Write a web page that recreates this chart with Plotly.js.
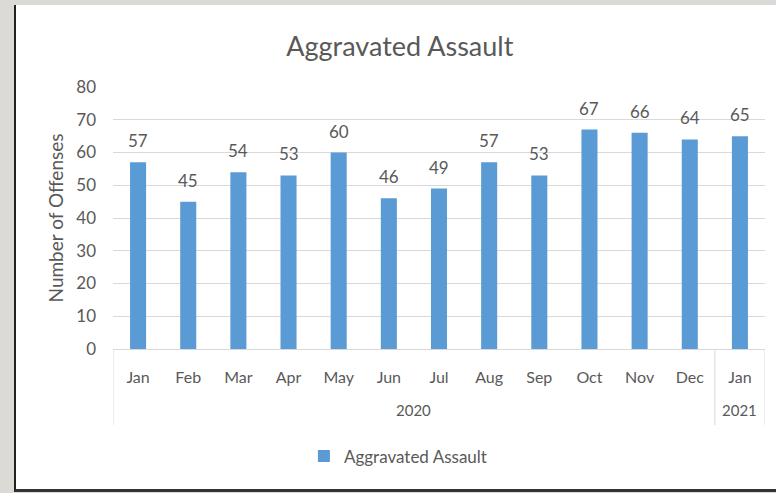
<!DOCTYPE html>
<html><head><meta charset="utf-8">
<script src="https://cdn.plot.ly/plotly-3.0.1.min.js"></script>
<style>
html,body{margin:0;padding:0;background:#dcdad5;width:776px;height:493px;overflow:hidden;}
#frame{position:absolute;left:14px;top:5px;width:762px;height:487px;background:#fff;border-left:2px solid #222;border-bottom:3px solid #333;box-sizing:border-box;}
#chart{position:absolute;left:0;top:0;width:760px;height:484px;}
</style></head>
<body><div id="frame"><div id="chart"></div></div>
<script>
const years = ["2020","2020","2020","2020","2020","2020","2020","2020","2020","2020","2020","2020","2021"];
const months = ["Jan","Feb","Mar","Apr","May","Jun","Jul","Aug","Sep","Oct","Nov","Dec","Jan"];
const offenses = [57,45,54,53,60,46,49,57,53,67,66,64,65];
const seriesName = "Aggravated Assault";
const yTicks = [0,10,20,30,40,50,60,70,80];

const font = "Lato, 'Open Sans', sans-serif";
const grey = "#595959";
const lineGrey = "#d9d9d9";
const idx = months.map((m, i) => i);

// year groups from the years array
const groups = [];
years.forEach((y, i) => {
  const g = groups[groups.length - 1];
  if (g && g.year === y) g.end = i; else groups.push({year: y, start: i, end: i});
});
const boundaries = [-0.5].concat(groups.map(g => g.end + 0.5));

const trace = {
  type: "bar",
  x: idx,
  y: offenses,
  name: seriesName,
  marker: {color: "#5b9bd5"},
  hoverinfo: "y"
};
const valueLabels = offenses.map((v, i) => ({xref: "x", yref: "y", x: idx[i], y: v,
  text: String(v), showarrow: false, xanchor: "center", yanchor: "bottom", yshift: 9,
  font: {family: font, size: 17, color: grey}}));
const yearLabels = groups.map(g => ({xref: "x", yref: "paper", x: (g.start + g.end) / 2, y: -0.233,
  text: g.year, showarrow: false, xanchor: "center", yanchor: "middle",
  font: {family: font, size: 15, color: grey}}));

const layout = {
  width: 760, height: 484,
  margin: {l: 97, r: 11, t: 82, b: 140},
  paper_bgcolor: "#fff", plot_bgcolor: "#fff",
  bargap: 0.68,
  showlegend: true,
  title: {text: "Aggravated Assault", font: {family: font, size: 27, color: grey}, x: 0.505, xanchor: "center", y: 0.915, yanchor: "middle"},
  xaxis: {
    range: [-0.5, months.length - 0.5],
    tickvals: idx, ticktext: months,
    tickfont: {family: font, size: 16, color: grey},
    showline: true, linecolor: lineGrey, linewidth: 1,
    showgrid: false, zeroline: false,
    ticks: "", ticklabelstandoff: 14
  },
  yaxis: {
    range: [0, 80], tickvals: yTicks, ticktext: yTicks.map(String),
    showgrid: true, gridcolor: lineGrey, gridwidth: 1,
    zeroline: false, showline: false,
    tickfont: {family: font, size: 17, color: grey},
    ticks: "", ticklabelstandoff: 16,
    title: {text: "Number of Offenses", font: {family: font, size: 19, color: grey}, standoff: 7}
  },
  shapes: boundaries.map(b => ({type: "line", xref: "x", yref: "paper", x0: b, x1: b, y0: 0, y1: -0.29,
    line: {color: lineGrey, width: 1}})),
  annotations: valueLabels.concat(yearLabels),
  legend: {orientation: "h", x: 0.437, xanchor: "center", y: -0.41, yanchor: "middle",
    font: {family: font, size: 17, color: grey}}
};
Plotly.newPlot("chart", [trace], layout, {displayModeBar: false, staticPlot: true});
</script></body></html>
